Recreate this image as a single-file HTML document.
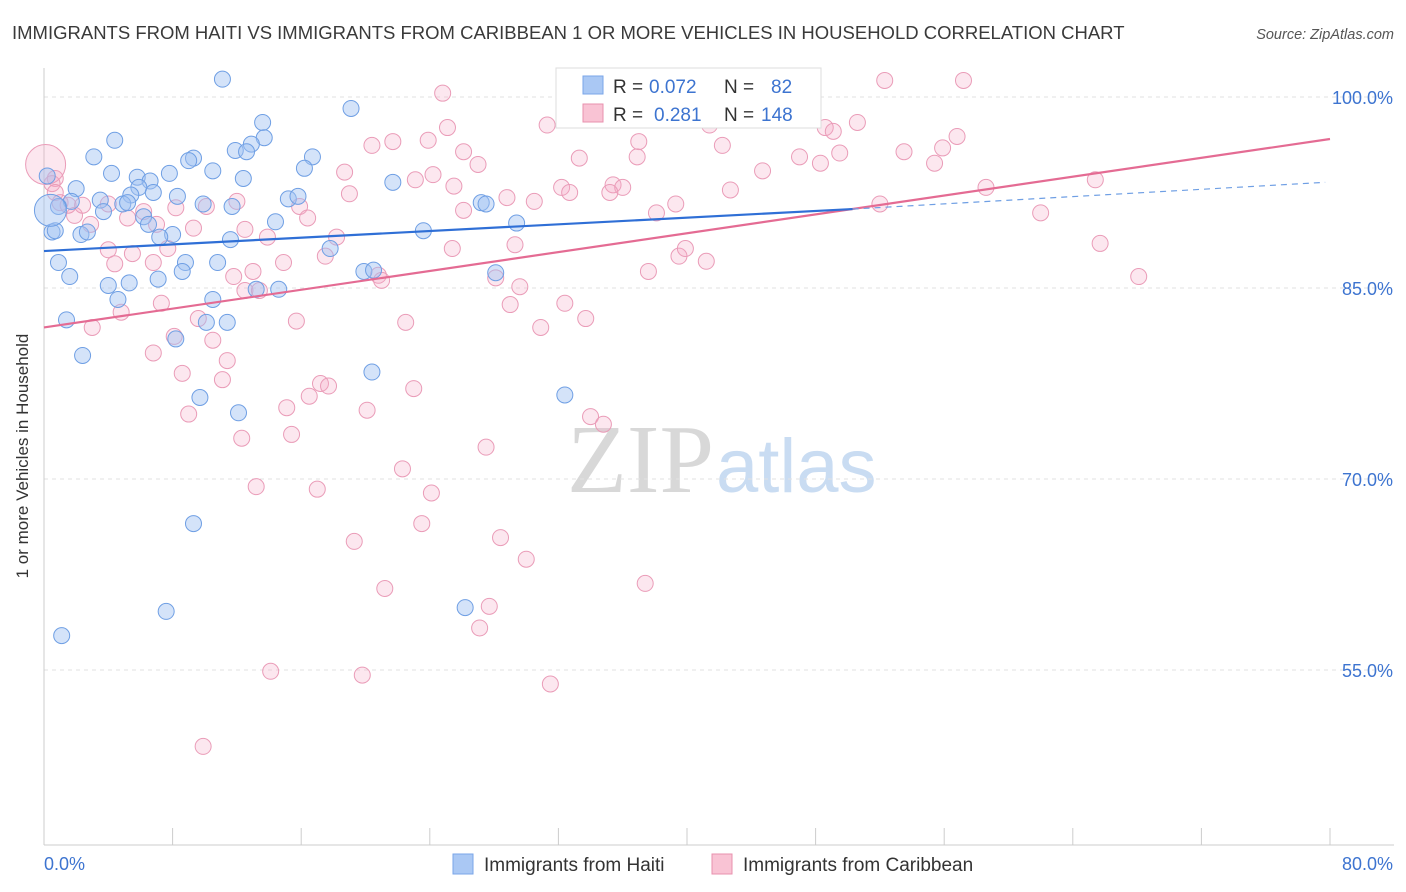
<!DOCTYPE html>
<html><head><meta charset="utf-8">
<style>
body{margin:0;background:#fff;font-family:"Liberation Sans",sans-serif;}
#wrap{position:relative;width:1406px;height:892px;overflow:hidden;}
</style></head>
<body>
<div id="wrap">
<svg id="chart" width="1406" height="892">
<text x="12" y="39" font-size="18.5" fill="#3a3a3a">IMMIGRANTS FROM HAITI VS IMMIGRANTS FROM CARIBBEAN 1 OR MORE VEHICLES IN HOUSEHOLD CORRELATION CHART</text>
<text x="1394" y="39" font-size="14.5" fill="#555" font-style="italic" text-anchor="end">Source: ZipAtlas.com</text>
<text x="714" y="492" font-size="98" fill="#d8d8d8" text-anchor="end" font-family="Liberation Serif">ZIP</text>
<text x="716" y="492" font-size="76" fill="#c9dcf2">atlas</text>
<g id="grid"></g><g id="axes"></g><g id="pinkpts"></g><g id="bluepts"></g><g id="lines"></g>
<text x="28" y="456" font-size="17" fill="#333" text-anchor="middle" transform="rotate(-90 28 456)">1 or more Vehicles in Household</text>
<g>
<rect x="556" y="68" width="265" height="60" fill="#fff" stroke="#ddd"/>
<rect x="583" y="76" width="20" height="18" fill="#aac8f4" stroke="#7aa6e8"/>
<rect x="583" y="104" width="20" height="18" fill="#f9c3d4" stroke="#e890ae"/>
<text x="613" y="93" font-size="19" fill="#333">R =</text>
<text x="649" y="93" font-size="19" fill="#3d74d0">0.072</text>
<text x="724" y="93" font-size="19" fill="#333">N =</text>
<text x="771" y="93" font-size="19" fill="#3d74d0">82</text>
<text x="613" y="121" font-size="19" fill="#333">R =</text>
<text x="654" y="121" font-size="19" fill="#3d74d0">0.281</text>
<text x="724" y="121" font-size="19" fill="#333">N =</text>
<text x="761" y="121" font-size="19" fill="#3d74d0">148</text>
</g>
<g>
<rect x="453" y="854" width="20" height="20" fill="#aac8f4" stroke="#7aa6e8"/>
<text x="484" y="871" font-size="19" fill="#333">Immigrants from Haiti</text>
<rect x="712" y="854" width="20" height="20" fill="#f9c3d4" stroke="#e890ae"/>
<text x="743" y="871" font-size="19" fill="#333">Immigrants from Caribbean</text>
</g>
</svg>
</div>
<script>
const blueX=[11.1,19.1,13.6,13.7,4.4,3.1,12.9,11.9,12.6,9.3,9.0,16.7,16.2,4.2,10.5,0.2,7.8,5.8,6.6,2.0,12.4,21.7,5.9,5.4,6.8,8.3,3.5,1.7,4.9,5.2,15.2,15.8,9.9,11.7,3.7,0.9,27.2,27.5,29.4,6.2,6.5,14.4,0.5,0.7,2.3,2.7,8.0,7.2,11.6,17.8,23.6,0.9,8.8,10.8,1.6,8.6,7.1,19.9,20.5,28.1,4.0,5.3,13.2,14.6,4.6,10.5,1.4,10.1,11.4,8.2,2.4,20.4,32.4,9.7,12.1,9.3,7.6,26.2,1.1,0.4];
const blueY=[101.4,99.1,98.0,96.8,96.6,95.3,96.3,95.8,95.7,95.2,95.0,95.3,94.4,94.0,94.2,93.8,94.0,93.7,93.4,92.8,93.6,93.3,92.9,92.3,92.5,92.2,91.9,91.8,91.6,91.7,92.0,92.2,91.6,91.4,91.0,91.4,91.7,91.6,90.1,90.6,90.0,90.2,89.4,89.5,89.2,89.4,89.2,89.0,88.8,88.1,89.5,87.0,87.0,87.0,85.9,86.3,85.7,86.3,86.4,86.2,85.2,85.4,84.9,84.9,84.1,84.1,82.5,82.3,82.3,81.0,79.7,78.4,76.6,76.4,75.2,66.5,59.6,59.9,57.7,91.1];
const pinkX=[45.0,52.3,57.2,24.8,31.3,41.4,25.1,50.6,48.6,49.1,56.8,20.4,21.7,23.9,37.0,42.2,47.0,49.5,53.5,55.9,55.4,26.1,33.3,36.9,44.7,48.3,18.7,24.2,27.0,0.7,23.1,25.5,32.2,32.7,35.4,36.0,35.2,42.7,58.6,65.4,19.0,28.8,30.5,0.5,0.7,1.0,1.9,1.5,2.4,4.0,6.2,8.2,10.1,12.0,15.9,16.4,26.1,38.1,39.3,52.0,62.0,2.9,5.2,7.0,9.3,12.5,13.9,18.2,29.3,25.4,65.7,4.0,5.5,4.4,6.8,7.7,14.9,17.5,39.5,39.9,41.2,20.8,21.0,28.1,37.6,11.8,13.0,12.5,13.4,68.1,29.6,29.0,32.4,30.9,33.7,4.8,3.0,7.3,9.6,15.7,22.5,8.1,10.5,6.8,11.4,8.6,11.1,17.2,17.7,23.0,16.5,9.0,15.1,20.1,34.0,34.8,12.3,15.4,27.5,22.3,13.2,17.0,24.1,23.5,28.4,19.3,30.0,37.4,21.2,27.7,27.1,14.1,19.8,31.5,9.9,0.1];
const pinkY=[101.3,101.3,101.3,100.3,97.8,97.8,97.6,98.0,97.6,97.3,96.9,96.2,96.5,96.6,96.5,96.2,95.3,95.6,95.7,96.0,94.8,95.7,95.2,95.3,94.2,94.8,94.1,93.9,94.7,93.6,93.5,93.0,92.9,92.5,93.1,92.9,92.5,92.7,92.9,93.5,92.4,92.1,91.8,93.2,92.5,91.7,90.7,91.5,91.5,91.6,91.0,91.3,91.4,91.8,91.4,90.5,91.1,90.9,91.6,91.6,90.9,90.0,90.5,90.0,89.7,89.6,89.0,89.0,88.4,88.1,88.5,88.0,87.7,86.9,87.0,88.1,87.0,87.5,87.5,88.1,87.1,86.0,85.6,85.8,86.3,85.9,86.3,84.8,84.8,85.9,85.1,83.7,83.8,81.9,82.6,83.1,81.9,83.8,82.6,82.4,82.3,81.2,80.9,79.9,79.3,78.3,77.8,77.5,77.3,77.1,76.5,75.1,75.6,75.4,74.9,74.3,73.2,73.5,72.5,70.8,69.4,69.2,68.9,66.5,65.4,65.1,63.7,61.8,61.4,60.0,58.3,54.9,54.6,53.9,49.0,94.7];
const blueTrend=[87.9,91.2,93.3];
const blueTrendX=[0,50.3,79.7];
const pinkTrend=[81.9,96.7];
const pinkTrendX=[0,80];
const yTicks=[100,85,70,55];
const yTickLabels=["100.0%","85.0%","70.0%","55.0%"];
const xTicks=[0,8,16,24,32,40,48,56,64,72,80];

const NS="http://www.w3.org/2000/svg";
const X=v=>44+v*(1286/80);
const Y=v=>97+(100-v)*(191/15);
function mk(tag,attrs,parent){const e=document.createElementNS(NS,tag);for(const k in attrs)e.setAttribute(k,attrs[k]);parent.appendChild(e);return e;}
const grid=document.getElementById('grid'),axes=document.getElementById('axes');
yTicks.forEach((t,i)=>{
  const l=mk('line',{x1:44,x2:1394,y1:Y(t),y2:Y(t),stroke:'#e2e2e2','stroke-dasharray':'4,4'},grid);
  
  
  const tx=mk('text',{x:1393,y:Y(t)+7,'font-size':18,fill:'#3d74d0','text-anchor':'end'},axes);
  tx.textContent=yTickLabels[i];
  
  
});
const ya=mk('line',{x1:44,x2:44,y1:68,y2:845,stroke:'#ccc'},axes);


const xa=mk('line',{x1:44,x2:1394,y1:845,y2:845,stroke:'#ccc'},axes);


xTicks.forEach(t=>{
  const l=mk('line',{x1:X(t),x2:X(t),y1:828,y2:845,stroke:'#ccc'},axes);
  
  
});
const xl0=mk('text',{x:44,y:870,'font-size':18,fill:'#3d74d0'},axes);xl0.textContent='0.0%';


const xl1=mk('text',{x:1393,y:870,'font-size':18,fill:'#3d74d0','text-anchor':'end'},axes);xl1.textContent='80.0%';



const pp=document.getElementById('pinkpts');
pinkX.forEach((x,i)=>{
  const big=i===pinkX.length-1;
  const c=mk('circle',{cx:X(x),cy:Y(pinkY[i]),r:big?20:8,fill:'rgba(244,170,196,0.28)',stroke:'#ea9cb8','stroke-width':1},pp);
  
  
});
const bp=document.getElementById('bluepts');
blueX.forEach((x,i)=>{
  const big=i===blueX.length-1;
  const c=mk('circle',{cx:X(x),cy:Y(blueY[i]),r:big?16:8,fill:'rgba(160,192,242,0.45)',stroke:'#6f9fe4','stroke-width':1},bp);
  
  
});
const lg=document.getElementById('lines');
const pl=mk('line',{x1:X(pinkTrendX[0]),y1:Y(pinkTrend[0]),x2:X(pinkTrendX[1]),y2:Y(pinkTrend[1]),stroke:'#e46b93','stroke-width':2.2},lg);


const bl=mk('line',{x1:X(blueTrendX[0]),y1:Y(blueTrend[0]),x2:X(blueTrendX[1]),y2:Y(blueTrend[1]),stroke:'#2f6fd6','stroke-width':2.2},lg);


const bd=mk('line',{x1:X(blueTrendX[1]),y1:Y(blueTrend[1]),x2:X(blueTrendX[2]),y2:Y(blueTrend[2]),stroke:'#6f9fe4','stroke-width':1.2,'stroke-dasharray':'6,5'},lg);


</script>
</body></html>
